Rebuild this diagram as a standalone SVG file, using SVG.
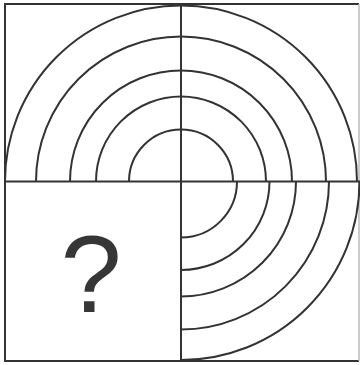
<svg xmlns="http://www.w3.org/2000/svg" width="360" height="365" viewBox="0 0 360 365">
<style>
.l{stroke:#333;stroke-width:2;fill:none}
.a{stroke:#333;stroke-width:2;fill:none}
.q{font-family:"Liberation Sans",Arial,sans-serif;font-size:110px;fill:#363636;text-anchor:middle}
</style>
<rect width="360" height="365" fill="#fff"/>
<g id="frame">
<line class="l" x1="5" y1="4" x2="5" y2="362"/>
<line class="l" x1="4" y1="4" x2="359" y2="4"/>
<line class="l" x1="4" y1="361" x2="359" y2="361"/>
<line x1="359" y1="4" x2="359" y2="361" stroke="#bbb" stroke-width="1.5"/>
</g>
<g id="upper-arcs">
<path class="a" d="M5,181.5 A176,176 0 0 1 357,181.5"/>
<path class="a" d="M36,181.5 A145,145 0 0 1 326,181.5"/>
<path class="a" d="M70,181.5 A111,111 0 0 1 292,181.5"/>
<path class="a" d="M96,181.5 A85,85 0 0 1 266,181.5"/>
<path class="a" d="M129,181.5 A52,52 0 0 1 233,181.5"/>
</g>
<g id="lower-arcs">
<path class="a" d="M359.5,181.5 A178.5,178.5 0 0 1 181,360"/>
<path class="a" d="M329,181.5 A148,148 0 0 1 181,329.5"/>
<path class="a" d="M296,181.5 A115,115 0 0 1 181,296.5"/>
<path class="a" d="M269.5,181.5 A88.5,88.5 0 0 1 181,270"/>
<path class="a" d="M237,181.5 A56,56 0 0 1 181,237.5"/>
</g>
<g id="axes">
<line class="l" x1="5" y1="181.5" x2="360" y2="181.5"/>
<line class="l" x1="181" y1="4" x2="181" y2="361"/>
</g>
<g id="question">
<text class="q" x="91" y="312">?</text>
</g>
</svg>
